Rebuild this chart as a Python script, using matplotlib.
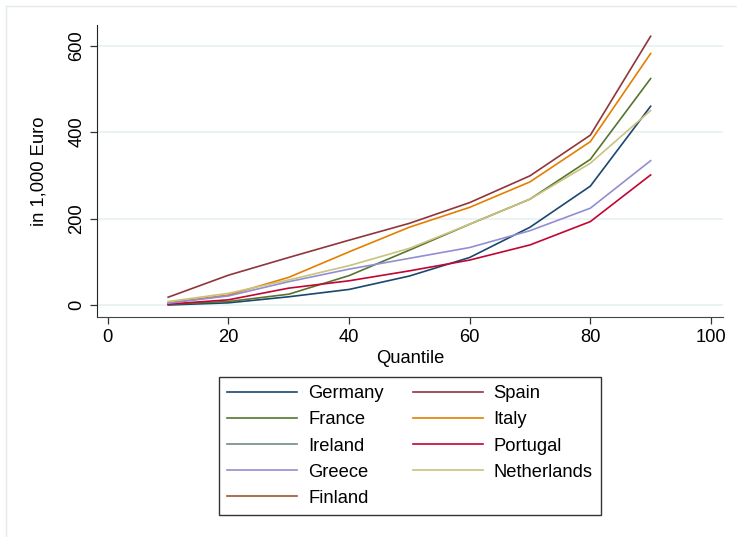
import numpy as np
import matplotlib.pyplot as plt
from matplotlib.lines import Line2D

plt.rcParams['font.family'] = ['Liberation Sans', 'DejaVu Sans']

# ------------------------------------------------------- #
# Datos (in 1,000 Euro, por cuantil)

quantiles = [10, 20, 30, 40, 50, 60, 70, 80, 90]

germany = [0, 5, 19, 36, 67, 110, 180, 275, 460]
spain = [18, 69, 110, 150, 189, 237, 299, 393, 622]
france = [2, 8, 25, 68, 127, 187, 245, 337, 524]
italy = [5, 23, 64, 123, 180, 226, 285, 378, 582]
ireland = []
portugal = [2, 12, 39, 56, 79, 104, 139, 193, 301]
greece = [4, 21, 54, 83, 108, 133, 172, 224, 334]
netherlands = [8, 27, 58, 91, 131, 187, 245, 328, 450]
finland = []

x_ticks = [0, 20, 40, 60, 80, 100]
y_ticks = [0, 200, 400, 600]

# orden de Stata (por filas)
series = [
    ('Germany', germany, '#1a476f'),
    ('Spain', spain, '#90353b'),
    ('France', france, '#55752f'),
    ('Italy', italy, '#e37e00'),
    ('Ireland', ireland, '#6e8e84'),
    ('Portugal', portugal, '#c10534'),
    ('Greece', greece, '#938dd2'),
    ('Netherlands', netherlands, '#cac27e'),
    ('Finland', finland, '#a0522d'),
]

FS = 13.2

# ------------------------------------------------------- #
# Grafico

fig = plt.figure(figsize=(7.37, 5.37), dpi=100)
ax = fig.add_axes([97 / 737, 1 - 317 / 537, 626 / 737, 292 / 537])

handles = {}
for name, vals, col in series:
    if len(vals) > 0:
        line, = ax.plot(quantiles, vals, color=col, lw=1.2, label=name)
    else:
        line, = ax.plot([], [], color=col, lw=1.2, label=name)
    handles[name] = line
# End for

ax.set_xlim(-1.8, 102)
ax.set_ylim(-27.8, 648)
ax.set_xticks(x_ticks)
ax.set_yticks(y_ticks)
ax.tick_params(axis='both', labelsize=FS, length=5, width=0.9, color='#333333')
for lab in ax.get_yticklabels():
    lab.set_rotation(90)
    lab.set_va('center')
# End for

ax.grid(axis='y', color='#e8f0f2', lw=1.2)
ax.set_axisbelow(True)
ax.spines['top'].set_visible(False)
ax.spines['right'].set_visible(False)
ax.spines['left'].set_color('#222222')
ax.spines['bottom'].set_color('#444444')

ax.set_xlabel('Quantile', fontsize=FS, labelpad=3)
ax.set_ylabel('in 1,000 Euro', fontsize=FS, labelpad=15)

# leyenda: matplotlib llena por columnas
order = ['Germany', 'France', 'Ireland', 'Greece', 'Finland',
         'Spain', 'Italy', 'Portugal', 'Netherlands']
leg = fig.legend(
    [handles[k] for k in order], order,
    loc='upper center',
    bbox_to_anchor=(410 / 737, 1 - 377 / 537),
    ncol=2, fontsize=FS, frameon=True, fancybox=False,
    handlelength=3.8, handletextpad=0.6, columnspacing=1.6,
    labelspacing=0.5, borderpad=0.45, borderaxespad=0,
    edgecolor='black')
leg.get_frame().set_linewidth(1.0)

# marco de la region del grafico
fig.add_artist(Line2D([6 / 737, 6 / 737], [0, 1 - 6 / 537],
                      transform=fig.transFigure, color='#e2eaec', lw=1))
fig.add_artist(Line2D([6 / 737, 1], [1 - 6 / 537, 1 - 6 / 537],
                      transform=fig.transFigure, color='#e2eaec', lw=1))

plt.savefig('out.png', dpi=100)
